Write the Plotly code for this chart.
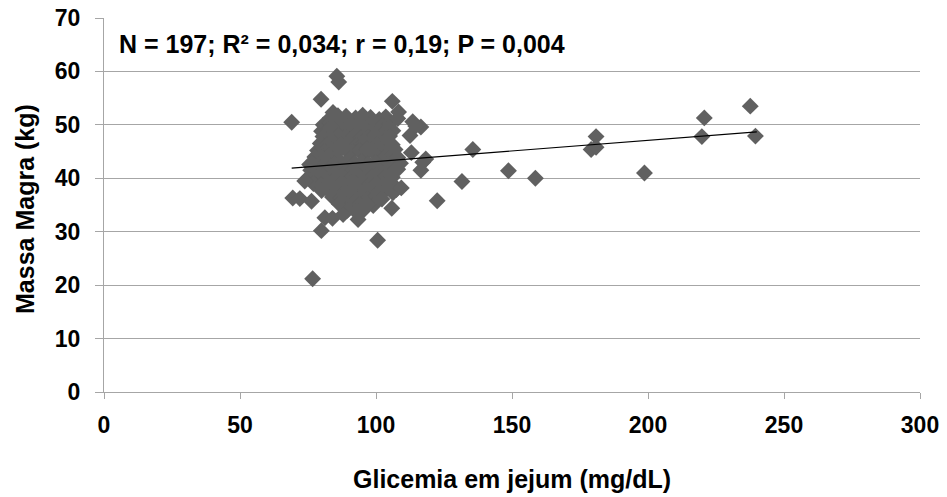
import plotly.graph_objects as go

# Outlying points (x = glicemia mg/dL, y = massa magra kg)
outlier_x = [69.0, 69.4, 72.0, 76.3, 76.7, 85.6, 86.3, 79.8, 84.2, 75.6, 73.8, 81.2, 79.9,
             84.0, 87.9, 93.4, 97.0, 100.6, 105.8, 107.5, 109.3, 106.0, 108.3, 108.0, 113.5,
             116.5, 112.5, 114.6, 113.0, 118.3, 116.5, 117.2, 108.0, 122.5, 131.6, 135.6,
             148.7, 158.6, 179.1, 180.9, 180.9, 198.7, 219.8, 220.7, 237.6, 239.5]
outlier_y = [50.5, 36.3, 36.2, 35.7, 21.2, 59.1, 58.0, 54.8, 52.3, 42.6, 39.5, 32.6, 30.2,
             32.5, 33.2, 32.3, 35.1, 28.4, 34.4, 37.9, 38.2, 54.4, 52.4, 51.2, 50.6,
             49.6, 48.0, 49.8, 44.8, 43.6, 41.5, 43.0, 41.7, 35.8, 39.4, 45.4,
             41.4, 40.0, 45.4, 47.8, 45.8, 41.0, 47.8, 51.3, 53.5, 47.9]

# Dense cluster, row by row (estimated)
cluster_x = [
    83.2, 86.0, 89.0, 92.5, 95.1, 98.0, 101.2, 103.6,
    80.6, 83.1, 85.0, 87.6, 90.8, 94.0, 96.5, 99.2, 102.5, 105.1,
    80.0, 82.5, 84.8, 88.0, 91.1, 93.5, 96.0, 98.8, 101.0, 104.0, 106.2,
    80.5, 83.0, 86.1, 89.2, 92.0, 94.5, 97.1, 99.5, 102.3, 105.0,
    79.5, 82.0, 84.5, 87.0, 90.1, 92.8, 95.5, 98.0, 100.5, 103.1, 106.0,
    78.5, 81.0, 83.5, 86.2, 89.0, 91.5, 94.0, 96.8, 99.3, 101.8, 104.5, 107.0,
    77.5, 80.0, 82.8, 85.5, 90.5, 95.5, 100.5, 103.0, 105.5, 108.0,
    76.5, 79.0, 81.8, 84.5, 87.0, 89.5, 92.0, 94.7, 97.2, 99.8, 104.0, 106.5, 109.0,
    76.0, 78.5, 81.0, 83.5, 86.0, 88.8, 91.5, 94.0, 96.5, 99.0, 101.5, 104.5, 107.0,
    75.5, 78.0, 80.5, 83.0, 85.8, 88.5, 91.0, 93.5, 96.0, 98.5, 101.0, 103.5, 106.0,
    77.0, 79.8, 82.5, 85.0, 87.5, 90.0, 92.5, 95.2, 97.8, 100.2, 102.8, 105.5,
    80.0, 83.0, 86.0, 88.5, 91.0, 93.5, 96.0, 98.5, 101.0, 103.5, 106.2,
    84.0, 87.0, 89.5, 92.0, 94.5, 97.0, 99.5, 102.2,
    86.5, 89.0, 91.5, 94.0, 96.5, 99.0,
    89.5, 92.5, 95.5,
]
cluster_y = [
    51.3, 51.7, 51.6, 51.3, 51.8, 51.4, 51.0, 51.5,
    50.0, 50.4, 50.3, 50.6, 50.1, 50.4, 50.2, 50.5, 49.9, 50.2,
    48.8, 49.2, 49.0, 48.9, 49.1, 48.8, 49.2, 49.0, 48.7, 49.1, 48.9,
    47.8, 47.6, 48.0, 47.7, 47.9, 47.5, 47.8, 48.1, 47.6, 47.9,
    46.5, 46.3, 46.7, 46.4, 46.6, 46.2, 46.5, 46.8, 46.4, 46.6, 46.3,
    45.2, 45.0, 45.4, 45.1, 45.3, 44.9, 45.2, 45.5, 45.0, 45.3, 45.1, 45.4,
    44.0, 43.8, 44.2, 43.9, 43.7, 44.3, 44.1, 43.8, 44.2, 43.9,
    42.8, 42.6, 43.0, 42.7, 42.9, 42.5, 42.8, 43.1, 42.7, 42.9, 42.6, 43.0, 42.8,
    41.5, 41.3, 41.7, 41.4, 41.6, 41.2, 41.5, 41.8, 41.4, 41.6, 41.3, 41.7, 41.5,
    40.2, 40.0, 40.4, 40.1, 40.3, 39.9, 40.2, 40.5, 40.1, 40.3, 40.0, 40.4, 40.2,
    39.0, 38.8, 39.2, 38.9, 39.1, 38.7, 39.0, 39.3, 38.9, 39.1, 38.8, 39.2,
    37.7, 37.5, 37.9, 37.6, 37.8, 37.4, 37.7, 38.0, 37.6, 37.8, 37.3,
    36.5, 36.3, 36.7, 36.4, 36.6, 36.2, 36.5, 36.1,
    35.2, 35.0, 35.4, 35.1, 35.3, 34.9,
    34.0, 33.8, 34.1,
]

# Linear trend line end points
trend_x = [69.0, 240.0]
trend_y = [41.9, 48.7]

x_ticks = [0, 50, 100, 150, 200, 250, 300]
y_ticks = [0, 10, 20, 30, 40, 50, 60, 70]

annotation_text = "N = 197; R² = 0,034; r = 0,19; P = 0,004"
x_title = "Glicemia em jejum (mg/dL)"
y_title = "Massa Magra (kg)"

FONT = "Liberation Sans, Arial, sans-serif"
GRID = "#a6a6a6"

fig = go.Figure()
fig.add_trace(go.Scatter(
    x=cluster_x + outlier_x, y=cluster_y + outlier_y, mode="markers",
    marker=dict(symbol="diamond", size=13, color="rgb(96,96,96)", line=dict(width=0)),
    showlegend=False, hoverinfo="x+y"))
fig.add_trace(go.Scatter(
    x=trend_x, y=trend_y, mode="lines",
    line=dict(color="black", width=1.2), showlegend=False, hoverinfo="skip"))

fig.update_layout(
    width=947, height=497,
    margin=dict(l=104, r=27, t=18, b=105),
    paper_bgcolor="white", plot_bgcolor="white",
    font=dict(family=FONT, size=23, color="black"),
    xaxis=dict(
        range=[0, 300], tickvals=x_ticks, ticktext=[f"<b>{v}</b>" for v in x_ticks],
        showgrid=False, zeroline=False, showline=True, linecolor=GRID, linewidth=1,
        ticks="outside", ticklen=6, tickcolor=GRID, automargin=False,
        tickfont=dict(family=FONT, size=23, color="black"), ticklabelstandoff=6,
    ),
    yaxis=dict(
        range=[0, 70], tickvals=y_ticks, ticktext=[f"<b>{v}</b>" for v in y_ticks],
        showgrid=True, gridcolor=GRID, gridwidth=1,
        zeroline=False, showline=True, linecolor=GRID, linewidth=1,
        ticks="outside", ticklen=8, tickcolor=GRID, automargin=False,
        tickfont=dict(family=FONT, size=23, color="black"), ticklabelstandoff=10,
    ),
    annotations=[
        dict(x=0.016, y=0.93, xref="paper", yref="paper", xanchor="left", yanchor="middle",
             text=f"<b>{annotation_text}</b>", showarrow=False,
             font=dict(family=FONT, size=25, color="black")),
        dict(x=0.5, y=-0.233, xref="paper", yref="paper", xanchor="center", yanchor="middle",
             text=f"<b>{x_title}</b>", showarrow=False,
             font=dict(family=FONT, size=25, color="black")),
        dict(x=-0.097, y=0.489, xref="paper", yref="paper", xanchor="center", yanchor="middle",
             text=f"<b>{y_title}</b>", showarrow=False, textangle=-90,
             font=dict(family=FONT, size=25, color="black")),
    ],
)

fig.write_html("out.html", config={"displayModeBar": False},
               post_script="document.body.style.margin='0px';document.body.style.overflow='hidden';")
